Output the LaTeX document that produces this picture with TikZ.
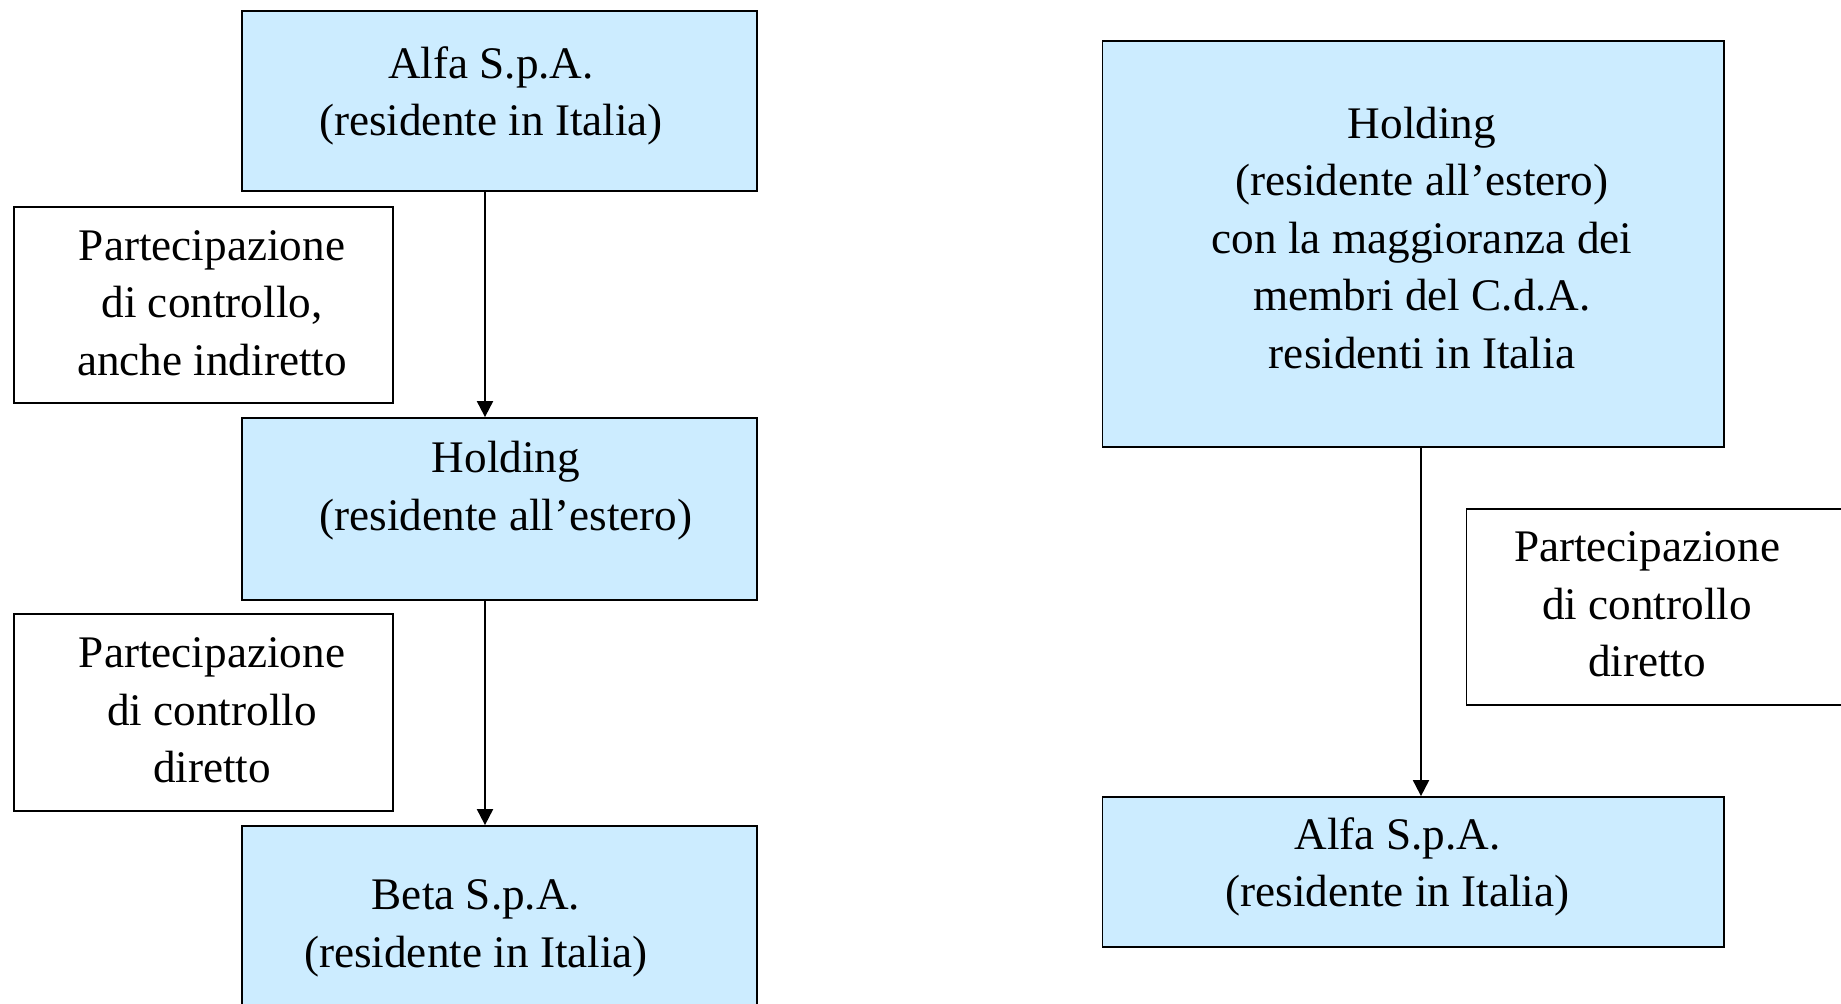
\documentclass[tikz,border=0pt]{standalone}
\usepackage{fontspec}
\setmainfont{Liberation Serif}
\usetikzlibrary{arrows.meta,fit}
\definecolor{boxblue}{HTML}{CCECFF}
\begin{document}
\begin{tikzpicture}[x=0.5pt,y=-0.5pt,
  entity/.style={draw=black, fill=boxblue, line width=0.9pt, inner sep=0pt},
  note/.style={draw=black, fill=white, line width=0.9pt, inner sep=0pt},
  % text blocks are placed by the baseline of their last line
  txt/.style={anchor=base, align=center, inner sep=0pt, font=\fontsize{22.6}{28.75}\selectfont},
  arr/.style={line width=1pt, -{Triangle[width=8pt,length=8pt]}}]
\useasboundingbox (0,0) rectangle (1841,1003);

% left chain
\node[entity, fit={(242,11) (757,191)}] (a1) {};
\node[txt] (a1t) at (491,135.5) {Alfa S.p.A.\\(residente in Italia)};
\node[note, fit={(14,207) (393,403)}] (n1) {};
\node[txt] (n1t) at (212,375) {Partecipazione\\di controllo,\\anche indiretto};
\node[entity, fit={(242,418) (757,600)}] (h1) {};
\node[txt] (h1t) at (506,530) {Holding\\(residente all’estero)};
\node[note, fit={(14,614) (393,811)}] (n2) {};
\node[txt] (n2t) at (212,782.5) {Partecipazione\\di controllo\\diretto};
\node[entity, fit={(242,826) (757,1020)}] (b1) {};
\node[txt] (b1t) at (476,967) {Beta S.p.A.\\(residente in Italia)};

\coordinate (lx) at (485,0);
\draw[arr] (a1.south -| lx) -- (h1.north -| lx);
\draw[arr] (h1.south -| lx) -- (b1.north -| lx);

% right chain
\node[entity, fit={(1102.5,41) (1724,447)}] (h2) {};
\node[txt] (h2t) at (1422,368) {Holding\\(residente all’estero)\\con la maggioranza dei\\membri del C.d.A.\\residenti in Italia};
\node[note, fit={(1466.5,509) (1860,705)}] (n3) {};
\node[txt] (n3t) at (1647,676.7) {Partecipazione\\di controllo\\diretto};
\node[entity, fit={(1102.5,797) (1724,947)}] (a2) {};
\node[txt] (a2t) at (1397.5,906.7) {Alfa S.p.A.\\(residente in Italia)};

\coordinate (rx) at (1421,0);
\draw[arr] (h2.south -| rx) -- (a2.north -| rx);
\end{tikzpicture}
\end{document}
